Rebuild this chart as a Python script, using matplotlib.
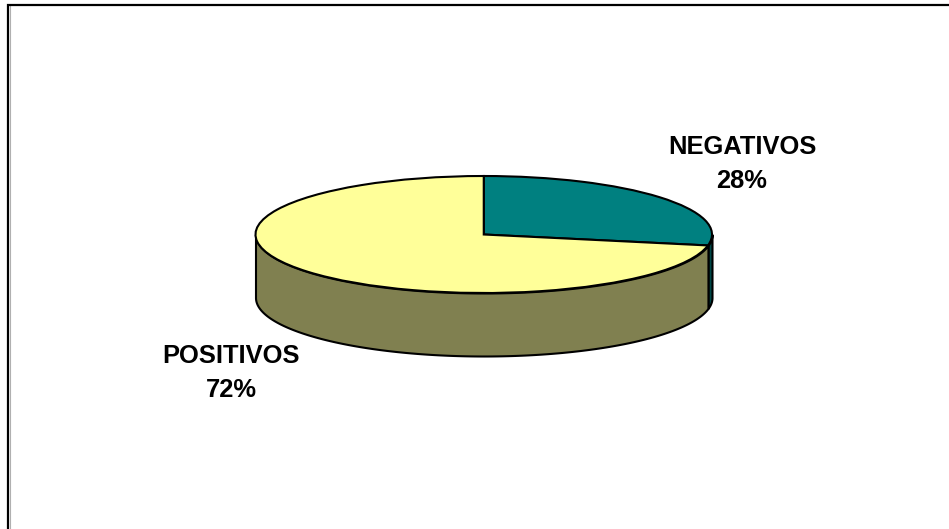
import numpy as np
import matplotlib
matplotlib.use('Agg')
import matplotlib.pyplot as plt

labels = ['NEGATIVOS', 'POSITIVOS']
values = [28, 72]
top_colors = ['#008080', '#FFFF99']
side_colors = ['#004848', '#808050']
label_pos = [(742, 164), (231, 373)]

W, H = 949, 529

plt.rcParams['font.family'] = ['Liberation Sans', 'DejaVu Sans']
fig = plt.figure(figsize=(W / 100, H / 100), dpi=100, facecolor='white')

# background axes in pixel coords, for the frame and the labels
bg = fig.add_axes([0, 0, 1, 1])
bg.set_xlim(0, W)
bg.set_ylim(H, 0)
bg.axis('off')
bg.plot([10.5, 10.5], [H, 5.5], color='#b0b0b0', lw=0.8, zorder=1)
bg.plot([8.5, 8.5, W], [H, 4.5, 4.5], color='black', lw=1.6, solid_joinstyle='miter', zorder=2)

# pie box: ellipse of the top face
left, right, top, bottom = 255.5, 712, 176, 293
ax = fig.add_axes([left / W, 1 - bottom / H, (right - left) / W, (bottom - top) / H])
depth = 63 / ((bottom - top) / 2)

lw = 1.5
wedges, _ = ax.pie(values, colors=top_colors, startangle=90, counterclock=False,
                   radius=1, wedgeprops=dict(edgecolor='black', linewidth=lw, zorder=5))
ax.set_aspect('auto')
ax.set_xlim(-1, 1)
ax.set_ylim(-1, 1)

# side wall, clockwise from 12 o'clock, only the front half shows
start = 0.0
total = sum(values)
for v, c in zip(values, side_colors):
    end = start + v / total * 360
    a0, a1 = max(start, 90), min(end, 270)
    if a1 > a0:
        th = np.radians(np.linspace(a0, a1, 200))
        x, y = np.sin(th), np.cos(th)
        ax.fill_between(x, y, y - depth, facecolor=c, edgecolor='black', linewidth=lw,
                        clip_on=False, zorder=2)
    start = end

for w in wedges:
    w.set_clip_on(False)

for name, v, (px, py) in zip(labels, values, label_pos):
    bg.text(px, py, f'{name}\n{v}%', ha='center', va='center', fontsize=18.4,
            fontweight='bold', color='black', linespacing=1.55, zorder=10)

fig.savefig('out.png', dpi=100, facecolor='white')
